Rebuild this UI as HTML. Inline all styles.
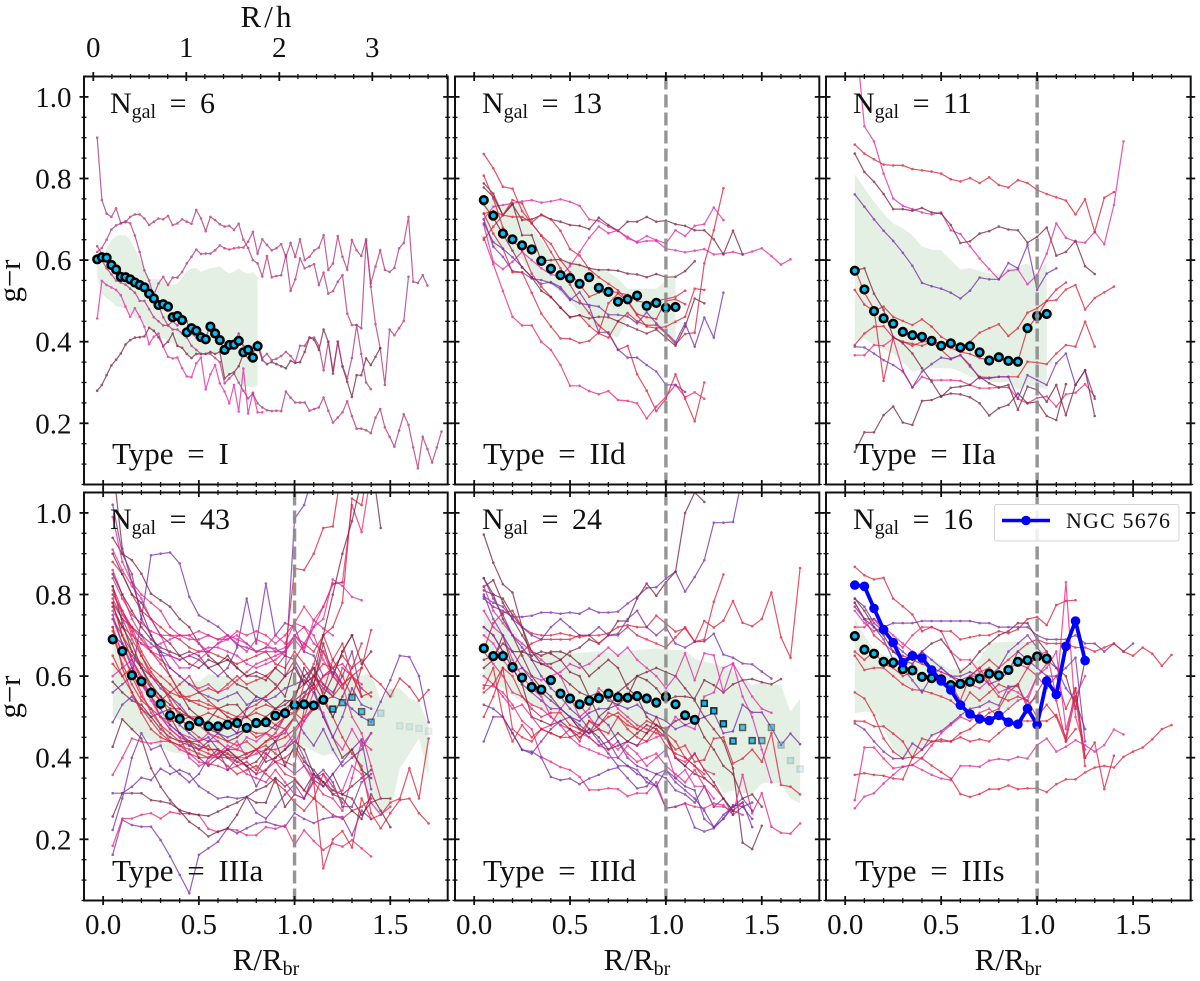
<!DOCTYPE html>
<html lang="en">
<head>
<meta charset="utf-8">
<title>g−r colour profiles by break type</title>
<style>
html,body{margin:0;padding:0;background:#fff;width:1200px;height:981px;overflow:hidden}
svg{display:block;position:absolute;left:0;top:0}
text{font-family:"Liberation Serif","DejaVu Serif",serif;fill:#111}
.anno{font-size:30px;word-spacing:6px}
.type{font-size:31px;word-spacing:6px}
.sub{font-size:20px;word-spacing:0}
.axt{font-size:31px}
</style>
</head>
<body>
<svg id="figure" width="1200" height="981" viewBox="0 0 1200 981" xmlns="http://www.w3.org/2000/svg">
  <defs id="clips"></defs>
  <g id="plot-I"></g>
  <g id="plot-IId"></g>
  <g id="plot-IIa"></g>
  <g id="plot-IIIa"></g>
  <g id="plot-IIId"></g>
  <g id="plot-IIIs"></g>

  <text class="anno" x="110" y="113">N<tspan class="sub" dy="5">gal</tspan><tspan dy="-5"> = 6</tspan></text>
  <text class="anno" x="482" y="113">N<tspan class="sub" dy="5">gal</tspan><tspan dy="-5"> = 13</tspan></text>
  <text class="anno" x="853" y="113">N<tspan class="sub" dy="5">gal</tspan><tspan dy="-5"> = 11</tspan></text>
  <text class="anno" x="110" y="529">N<tspan class="sub" dy="5">gal</tspan><tspan dy="-5"> = 43</tspan></text>
  <text class="anno" x="482" y="529">N<tspan class="sub" dy="5">gal</tspan><tspan dy="-5"> = 24</tspan></text>
  <text class="anno" x="853" y="529">N<tspan class="sub" dy="5">gal</tspan><tspan dy="-5"> = 16</tspan></text>

  <text class="type" x="112" y="464">Type = I</text>
  <text class="type" x="483" y="464">Type = IId</text>
  <text class="type" x="855" y="464">Type = IIa</text>
  <text class="type" x="112" y="881">Type = IIIa</text>
  <text class="type" x="483" y="881">Type = IIId</text>
  <text class="type" x="855" y="881">Type = IIIs</text>

  <text class="axt" x="266" y="27" text-anchor="middle" textLength="51" lengthAdjust="spacing">R/h</text>
  <text class="axt" x="266" y="970" text-anchor="middle">R/R<tspan class="sub" dy="5">br</tspan></text>
  <text class="axt" x="637" y="970" text-anchor="middle">R/R<tspan class="sub" dy="5">br</tspan></text>
  <text class="axt" x="1008" y="970" text-anchor="middle">R/R<tspan class="sub" dy="5">br</tspan></text>
  <text class="axt" transform="translate(20,281) rotate(-90)" text-anchor="middle" textLength="43" lengthAdjust="spacing">g−r</text>
  <text class="axt" transform="translate(20,697) rotate(-90)" text-anchor="middle" textLength="43" lengthAdjust="spacing">g−r</text>

  <g>
    <rect x="994.5" y="504.5" width="184.5" height="36.5" rx="2" fill="#fff" fill-opacity="0.85" stroke="#d4d4d4" stroke-width="1"></rect>
    <line x1="1002" y1="520.5" x2="1050" y2="520.5" stroke="#0000ff" stroke-width="3.6"></line>
    <circle cx="1026" cy="520.5" r="4.8" fill="#0000ff"></circle>
    <text x="1066" y="528" font-size="22" textLength="104" lengthAdjust="spacing">NGC 5676</text>
  </g>
</svg>

<script>
/* ---------- Axis tick data ---------- */
const yTickValues = [0.2, 0.4, 0.6, 0.8, 1.0];
const xTickValues = [0.0, 0.5, 1.0, 1.5];
const topTickValues = [0, 1, 2, 3];

/* ---------- Type I (fine radial sampling) ---------- */
const medianI = [.602,.607,.606,.588,.577,.559,.558,.553,.545,.539,.533,.518,.506,.49,.492,.486,.46,.463,.453,.423,.433,.427,.411,.406,.437,.42,.404,.38,.392,.393,.402,.374,.38,.361,.389];
const upperI = [.592,.60,.629,.649,.66,.661,.661,.649,.629,.604,.58,.555,.553,.553,.551,.547,.539,.543,.555,.574,.58,.58,.571,.576,.58,.582,.584,.574,.567,.571,.58,.571,.566,.571,.559];
const lowerI = [.559,.518,.506,.498,.487,.484,.482,.473,.461,.453,.445,.433,.42,.416,.408,.404,.396,.388,.38,.371,.367,.367,.365,.367,.37,.37,.37,.314,.322,.316,.306,.29,.29,.288,.294];
const profilesI = [
[.90,.747,.714,.706,.727,.691,.693,.706,.712,.712,.702,.686,.694,.702,.70,.708,.686,.69,.70,.694,.689,.723,.702,.671,.706,.698,.688,.682,.684,.674,.689,.65,.63,.60,.592,.56,.61,.558,.561,.563,.612,.525,.553,.604,.58,.585,.59,.539,.569,.518,.524,.547,.563,.469,.441,.441,.433,.647,.535,.443,.384,.294,.43,.416,.433,.451,.559],
[.634,.615,.60,.585,.575,.56,.55,.55,.54,.535,.53,.52,.515,.543,.559,.539,.557,.557,.571,.592,.608,.626,.615,.616,.616,.624,.636,.629,.626,.629,.631,.631,.645,.669,.616,.651,.637,.624,.629,.639,.608,.642,.608,.651,.60,.608,.624,.631,.661,.576,.592,.659,.608,.577,.649,.624,.61,.651,.543,.584,.624,.576,.571,.581,.629,.642,.706,.547,.544,.563,.538],
[.28,.294,.318,.342,.356,.371,.393,.404,.41,.411,.413,.434,.427,.411,.39,.40,.42,.39,.385,.37,.36,.37,.37,.37,.375,.37,.375,.31,.32,.325,.34,.37,.36,.375,.39,.355,.345,.35,.345,.34,.335,.353,.348,.35,.375,.41,.405,.38,.43,.40,.322,.40,.339,.302,.265,.318,.318,.359,.343,.363,.384],
[.457,.549,.539,.533,.527,.514,.486,.461,.482,.461,.437,.394,.412,.42,.388,.363,.359,.361,.335,.315,.313,.347,.361,.283,.32,.343,.298,.278,.249,.294,.229,.334,.224,.275,.227,.227],
[.62,.63,.65,.675,.685,.69,.695,.69,.66,.62,.575,.55,.51,.49,.46,.44,.45,.44,.46,.45,.42,.41,.42,.41,.44,.43,.40,.38,.39,.40,.42,.39,.38,.37,.40,.36,.37,.355,.358,.365,.375,.365,.35,.39,.39,.41,.41,.39,.33,.40,.33,.40,.34,.31,.36,.44,.37,.30,.284],
[.61,.60,.58,.565,.55,.545,.54,.53,.52,.50,.50,.48,.46,.45,.44,.44,.43,.43,.42,.41,.39,.38,.37,.37,.37,.36,.35,.298,.31,.322,.30,.28,.261,.273,.249,.239,.232,.23,.231,.23,.278,.263,.251,.251,.251,.231,.235,.239,.263,.231,.202,.214,.227,.254,.218,.187,.187,.183,.176,.214,.235,.19,.167,.143,.182,.222,.196,.141,.09,.167,.137,.104,.141,.18]
];
const hueI = "ddbmdd";

/* ---------- Type IId ---------- */
const medianIId = [.747,.709,.665,.651,.636,.626,.598,.579,.563,.556,.542,.558,.532,.522,.498,.504,.513,.488,.495,.483,.485];
const upperIId = [.74,.75,.73,.74,.74,.68,.65,.61,.60,.60,.595,.58,.575,.57,.555,.53,.53,.53,.53,.55,.56];
const lowerIId = [.67,.63,.63,.62,.60,.565,.55,.54,.52,.50,.47,.44,.43,.42,.41,.46,.44,.44,.43,.43,.395];
const profilesIId = [
[.86,.825,.78,.775,.72,.69,.66,.62,.58,.54,.5,.47,.44,.42,.38,.39,.32,.28,.23,.26,.32,.26,.205,.30],
[.655,.59,.524,.461,.44,.44,.40,.38,.343,.292,.292,.279,.271,.279,.257,.255,.249,.212,.241,.265,.294,.264,.276,.26],
[.70,.633,.608,.573,.57,.555,.551,.544,.529,.502,.521,.486,.423,.423,.381,.361,.361,.343,.327,.294,.294,.277],
[.70,.731,.735,.739,.744,.747,.741,.744,.749,.743,.733,.70,.696,.682,.671,.657,.643,.647,.647,.628,.624,.619,.623,.627,.614,.616,.62,.614,.621,.629,.61,.589,.602],
[.788,.763,.71,.736,.698,.70,.71,.70,.694,.686,.684,.676,.704,.686,.672,.694,.694,.706,.694,.697,.688,.684,.673,.673,.651,.614,.672,.614],
[.778,.755,.71,.739,.661,.661,.598,.60,.602,.592,.588,.58,.576,.576,.574,.567,.565,.558,.566,.558,.559,.573,.597],
[.807,.751,.68,.649,.624,.567,.535,.51,.483,.46,.465,.439,.42,.41,.45,.47,.45,.44,.441,.42,.394,.419,.422,.592,.673,.776],
[.686,.596,.578,.596,.62,.60,.58,.565,.56,.585,.62,.655,.682,.666,.673,.653,.645,.659,.649,.641,.673,.659,.684,.688,.729,.698],
[.714,.665,.628,.57,.57,.52,.469,.437,.408,.407,.397,.402,.423,.494,.518,.498,.465,.437,.433,.437,.449,.461,.53,.527],
[.65,.682,.71,.747,.739,.69,.66,.64,.60,.57,.54,.51,.52,.525,.52,.515,.50,.495,.50,.505,.51,.525],
[.714,.72,.71,.706,.706,.692,.712,.70,.672,.627,.611,.578,.558,.542,.526,.50,.468,.46,.456,.50,.504,.492],
[.69,.644,.628,.607,.583,.558,.542,.546,.534,.506,.494,.49,.486,.466,.466,.462,.445,.472,.445,.423,.399,.445,.388,.459,.41,.52],
[.736,.704,.664,.623,.582,.558,.525,.509,.484,.46,.465,.457,.461,.46,.45,.44,.43,.42,.43,.41,.39,.437,.506,.494]
];
const hueIId = "rkpmbbrmrrrpb";

/* ---------- Type IIa ---------- */
const medianIIa = [.574,.528,.475,.457,.444,.424,.416,.412,.402,.39,.396,.386,.389,.374,.354,.362,.353,.351,.433,.463,.468];
const upperIIa = [.81,.776,.743,.714,.69,.678,.661,.633,.626,.624,.60,.577,.58,.574,.567,.567,.58,.585,.592,.567,.596];
const lowerIIa = [.396,.408,.392,.38,.372,.35,.327,.331,.335,.335,.335,.327,.314,.31,.302,.30,.302,.282,.294,.29,.282];
const profilesIIa = [
[1.175,.928,.891,.812,.751,.733,.725,.717,.712,.717,.673,.664,.634,.604,.578,.553,.574,.577,.541,.563,.616,.69,.655,.645,.643,.669,.639,.735,.891],
[.883,.861,.847,.834,.832,.832,.823,.82,.817,.812,.798,.793,.801,.789,.803,.784,.778,.796,.789,.772,.762,.754,.746,.712,.749,.669,.753,.767],
[.861,.816,.792,.762,.725,.725,.721,.728,.717,.714,.686,.642,.646,.665,.671,.682,.675,.673,.643,.657,.68,.611,.62,.647,.585,.566],
[.761,.731,.70,.672,.647,.618,.586,.544,.536,.53,.52,.506,.525,.557,.553,.553,.593,.58,.637,.527,.567,.58],
[.527,.491,.475,.486,.461,.451,.441,.455,.437,.412,.398,.386,.40,.422,.433,.443,.414,.433,.471,.482,.50,.502,.528,.539,.479,.507,.521,.535],
[.58,.52,.48,.304,.41,.40,.39,.40,.40,.395,.385,.375,.37,.36,.355,.36,.35,.352,.432,.462,.50,.528,.545],
[.392,.42,.437,.438,.41,.40,.395,.39,.40,.38,.359,.367,.339,.314,.312,.314,.314,.314,.351,.349,.345,.371,.392,.388,.449,.388],
[.367,.367,.392,.39,.408,.33,.288,.314,.306,.306,.306,.304,.294,.286,.286,.288,.288,.26,.249,.262,.266,.241,.271,.275,.296,.266],
[.388,.386,.371,.355,.343,.327,.288,.327,.345,.361,.357,.367,.343,.31,.31,.314,.314,.26,.318,.306,.294,.347,.371,.294,.33,.26],
[.575,.58,.518,.478,.412,.396,.371,.335,.302,.265,.287,.29,.294,.314,.298,.288,.294,.233,.29,.282,.253,.294,.22,.294,.33,.218],
[.13,.178,.178,.22,.241,.202,.196,.255,.257,.267,.273,.271,.264,.249,.219,.237,.245,.273,.249,.253,.218,.208,.296]
];
const hueIIa = "mrbprrrkpbb";

/* ---------- Type IIIa ---------- */
const medianIIIa = [.69,.661,.602,.587,.559,.532,.504,.495,.478,.489,.477,.477,.481,.485,.473,.485,.487,.503,.509,.529,.531,.528,.542];
const outerIIIa = [.519,.535,.548,.513,.487,.509,.558,.478,.476,.472,.465];
const outerWeightIIIa = [.9,.7,.7,.7,.6,.2,.1,.1,.1,.1,.1];
const upperIIIa = [.76,.73,.68,.65,.62,.60,.60,.59,.59,.585,.605,.60,.60,.59,.59,.59,.595,.62,.60,.60,.56,.56,.60,.60,.61,.61,.60,.61,.537,.57,.57,.545,.537,.48];
const lowerIIIa = [.50,.49,.47,.455,.44,.425,.415,.41,.405,.40,.40,.40,.40,.405,.405,.405,.41,.41,.415,.415,.43,.415,.405,.41,.40,.398,.36,.276,.264,.264,.374,.41,.447,.353];
const profilesIIIa = [
[.162,.247,.235,.231,.231,.198,.158,.113,.068,.162,.178,.194,.227,.215,.227,.239,.243,.235,.231,.264,.25,.24,.25,.255,.255,.21,.27,.25],
[.184,.251,.251,.26,.264,.251,.267,.263,.263,.259,.226,.218,.226,.222,.21,.21,.23,.226,.234,.186,.222,.196,.174,.19,.182,.198,.178,.158],
[.256,.313,.313,.313,.296,.293,.288,.272,.264,.26,.257,.268,.28,.29,.304,.29,.29,.349,.28,.31,.30,.345,.33,.36,.31,.33,.35,.37],
[.427,.494,.47,.447,.374,.329,.296,.27,.243,.227,.207,.219,.227,.26,.304,.32,.33,.35,.33,.345,.32,.36,.34],
[.358,.40,.447,.44,.435,.44,.44,.43,.41,.39,.385,.38,.37,.38,.36,.35,.34,.37,.34,.31,.30,.34,.31,.30,.27,.35,.44,.42],
[.313,.313,.329,.351,.345,.373,.36,.37,.36,.33,.315,.30,.304,.30,.304,.265,.251,.28,.31,.335,.30,.36,.33,.36,.39,.42,.445,.323],
[.223,.30,.40,.46,.42,.43,.38,.36,.34,.36,.40,.42,.37,.40,.38,.33,.37,.40,.42,.45,.40,.35,.37,.34,.28,.28,.34,.36],
[.487,.53,.55,.52,.50,.51,.52,.48,.46,.44,.45,.42,.40,.39,.38,.36,.40,.44,.47,.50,.46,.43,.47,.42,.38,.40,.42,.46],
[.586,.56,.54,.53,.50,.47,.45,.44,.44,.43,.42,.42,.40,.40,.41,.42,.39,.40,.42,.44,.42,.36,.34,.32,.31,.30,.26,.29,.30,.30],
[.74,.70,.64,.60,.57,.54,.52,.52,.50,.49,.48,.47,.48,.46,.47,.45,.46,.48,.50,.51,.49,.52,.55,.50,.45,.41,.38,.264,.227,.264,.296,.30,.264,.239],
[.65,.60,.56,.52,.49,.46,.44,.43,.42,.41,.40,.41,.42,.40,.38,.36,.37,.39,.40,.42,.38,.34,.129,.20,.22,.18,.30,.25,.26,.29,.30,.374,.30,.447],
[.86,.80,.74,.70,.66,.64,.62,.60,.58,.57,.58,.56,.57,.59,.61,.63,.64,.65,.66,.70,.67,.72,.77,.827,.83,1.019,.953,1.10],
[.70,.68,.65,.62,.60,.57,.55,.53,.50,.49,.47,.46,.45,.46,.47,.48,.48,.47,.50,.53,.55,.60,.57,.55,.54,.52,.50,.487,.537,.59,.65,.647,.60,.487],
[.56,.58,.60,.74,.896,.90,.903,.876,.794,.749,.735,.721,.70,.676,.67,.66,.67,.668,.65,.64,.60,.62,.58,.56,.60,.66,.55],
[1.12,.913,.83,.76,.70,.65,.60,.56,.52,.50,.48,.46,.44,.45,.47,.49,.48,.50,.52,.54,.56,.58,.54,.50,.55,.60],
[.939,.90,.884,.851,.802,.786,.77,.74,.72,.68,.65,.63,.60,.58,.57,.55,.54,.52,.53,.55,.60,.57,.50,.45,.40,.42,.37,.35],
[.88,.85,.80,.76,.74,.72,.70,.69,.67,.66,.66,.65,.64,.63,.64,.65,.66,.63,.62,.66,.63,.60,.58,.55,.62,.60,.57,.55],
[.78,.74,.72,.70,.68,.66,.65,.64,.65,.64,.62,.60,.62,.67,.79,.68,.827,.70,.73,.72,.66,.65,.60,.61,.58],
[.84,.79,.75,.73,.71,.70,.70,.70,.69,.69,.70,.69,.69,.71,.70,.71,.70,.68,.70,.73,.77,.737,.77,.825,.83],
[.76,.72,.70,.68,.66,.65,.65,.64,.65,.66,.67,.67,.66,.65,.63,.62,.63,.64,.66,.69,.66,.737,.717,.70],
[.80,.76,.72,.66,.62,.60,.58,.55,.54,.53,.52,.52,.50,.49,.47,.46,.46,.44,.45,.47,.50,.52,.54,.55,.58,.60,.62,.713],
[.79,.74,.69,.65,.60,.58,.54,.50,.47,.45,.44,.44,.42,.42,.41,.42,.44,.45,.46,.50,.55,.57,.60,.62,.58,.60,.55,.56],
[.82,.76,.71,.65,.61,.58,.55,.52,.50,.48,.46,.45,.44,.43,.44,.42,.44,.46,.50,.56,.58,.60,.63,.62,.65,.62,.64,.60,.58,.55,.594,.574,.54,.566],
[.90,.85,.80,.78,.74,.70,.68,.65,.66,.65,.62,.63,.64,.62,.60,.61,.60,.58,.55,.63,.58,.62,.55,.60,.66,.70,.63,.66],
[.74,.68,.63,.58,.54,.50,.48,.46,.45,.44,.46,.44,.42,.44,.40,.42,.41,.39,.38,.36,.38,.35,.36,.31,.32,.38,.36,.29,.26,.28],
[.71,.66,.60,.55,.52,.48,.46,.44,.43,.42,.41,.40,.38,.36,.37,.38,.36,.34,.32,.29,.27,.30,.28,.26,.25,.27,.28,.30],
[.72,.65,.61,.56,.51,.48,.44,.42,.41,.40,.40,.40,.41,.40,.40,.41,.42,.42,.43,.46,.50,.56,.60,.62,.58,.50,.46,.38,.30],
[.78,.70,.64,.59,.55,.50,.47,.45,.44,.44,.42,.42,.41,.39,.40,.42,.43,.41,.39,.38,.52,.60,.56,.64,.60,.55,.62],
[.82,.73,.66,.62,.58,.55,.50,.46,.44,.40,.38,.40,.42,.40,.38,.39,.42,.44,.38,.43,.39,.37,.34,.31,.30,.27,.25,.31,.27,.23],
[.70,.63,.58,.54,.52,.50,.49,.49,.50,.50,.51,.50,.49,.50,.50,.52,.53,.52,.51,.51,.53,.58,.66,.60,.57,.62,.68],
[.63,.60,.62,.58,.56,.54,.56,.58,.60,.56,.54,.52,.50,.49,.50,.51,.50,.48,.47,.50,.58,.63,.70,.64,.68,.60,.55],
[.60,.62,.64,.60,.55,.50,.47,.45,.40,.38,.39,.41,.43,.42,.45,.44,.46,.45,.47,.43,.49,.53,.51,.45,.42,.47,.43,.46],
[.75,.68,.62,.58,.55,.52,.48,.46,.43,.42,.44,.46,.48,.46,.52,.55,.54,.55,.57,.58,.59,.56,.50,.45,.50,.57,.53,.52],
[.77,.72,.68,.62,.57,.55,.53,.51,.50,.48,.49,.52,.53,.53,.50,.48,.50,.52,.54,.54,.62,.58,.68,.60,.66,.70],
[.72,.62,.56,.51,.47,.45,.44,.43,.44,.42,.43,.40,.40,.38,.39,.37,.41,.39,.36,.35,.32,.30,.36,.33,.29],
[.99,.88,.83,.80,.78,.76,.72,.70,.70,.71,.70,.69,.70,.68,.66,.69,.68,.66,.67,.70,.72,.68,.66,.62,.63,.60,.58],
[.91,.86,.82,.79,.74,.70,.65,.62,.62,.64,.66,.68,.70,.69,.68,.66,.67,.70,.68,.73,.72,.70,.64,.60,.58],
[1.02,.90,.85,.74,.70,.66,.62,.60,.58,.56,.55,.54,.55,.56,.53,.54,.55,.57,.60,.986,1.019,1.10],
[.78,.70,.66,.63,.60,.58,.56,.55,.55,.56,.57,.56,.58,.60,.58,.59,.60,.62,.65,.864,.86,.90,.963,.967,1.12],
[.81,.75,.72,.69,.66,.63,.60,.56,.54,.54,.53,.52,.51,.50,.52,.53,.55,.57,.60,.64,.68,.66,.70,.72,.78,1.035,1.019,1.15],
[.80,.76,.70,.68,.67,.68,.69,.70,.70,.68,.66,.68,.69,.70,.68,.66,.66,.66,.66,.70,.68,.72,.74,.837,.821,.794,.786],
[.85,.80,.76,.72,.69,.67,.66,.65,.63,.62,.64,.63,.65,.62,.60,.60,.59,.62,.60,.62,.58,.60,.70,.80,.90,.98,1.08,1.14,.963]
];
const hueIIIa = "pkbbkpppbrrkppbbrpkmrrrbmrkrbrrmpbrkmprrmbm";

/* ---------- Type IIId ---------- */
const medianIIId = [.668,.649,.649,.622,.596,.573,.567,.59,.557,.545,.531,.54,.546,.557,.548,.547,.551,.545,.535,.549,.531,.504,.493];
const outerIIId = [.533,.515,.483,.441,.474,.442,.442,.474,.431,.393,.372];
const outerWeightIIId = [1,1,1,.9,.7,.8,.6,.5,.3,.2,.15];
const upperIIId = [.77,.733,.741,.717,.684,.664,.656,.658,.66,.658,.656,.659,.661,.658,.656,.66,.664,.666,.668,.664,.664,.664,.643,.635,.63,.623,.61,.598,.578,.585,.58,.578,.513,.545];
const lowerIIId = [.586,.578,.57,.553,.537,.529,.521,.504,.484,.476,.468,.46,.455,.453,.451,.451,.451,.45,.447,.419,.417,.415,.395,.374,.349,.313,.32,.313,.31,.337,.34,.335,.30,.288];
const profilesIIId = [
[.947,.878,.825,.805,.72,.64,.63,.62,.60,.58,.56,.55,.56,.54,.53,.55,.60,.61,.62,.61,.60,.57,.54,.50,.47,.44,.374,.192,.176,.233],
[.819,.835,.78,.74,.70,.66,.65,.66,.66,.65,.63,.60,.62,.64,.62,.57,.55,.50,.48,.47,.49,.50,.50,.45,.42,.38,.36,.30,.31,.28],
[.79,.77,.76,.745,.745,.748,.756,.756,.753,.756,.753,.766,.756,.756,.758,.778,.794,.816,.818,.839,.856,.807,.843,.884,.976,.976,.978,1.09],
[.81,.80,.79,.75,.72,.66,.63,.63,.64,.66,.67,.69,.68,.70,.735,.735,.79,.827,.797,.83,.856,1.0,1.05,1.027],
[.664,.73,.755,.76,.72,.705,.70,.70,.705,.70,.695,.70,.70,.705,.72,.725,.72,.72,.748,.729,.709,.717,.684,.735,.719,.736,.784,.731,.722,.74,.805,.695,.645,.865],
[.72,.70,.66,.62,.66,.68,.69,.69,.69,.69,.70,.70,.68,.70,.70,.72,.70,.69,.68,.67,.695,.72,.685,.69,.782,.849],
[.795,.78,.77,.74,.72,.70,.69,.72,.74,.72,.70,.70,.72,.70,.704,.74,.76,.72,.70,.72,.68,.67,.684,.685,.704,.653,.645,.631,.629,.611,.594],
[.64,.65,.68,.66,.66,.65,.66,.655,.64,.61,.60,.55,.50,.52,.56,.58,.60,.59,.57,.54,.55,.55,.545,.59,.578,.56,.58,.59,.593,.585,.58,.593],
[.70,.68,.64,.61,.62,.60,.59,.60,.61,.63,.62,.63,.65,.67,.65,.67,.64,.62,.60,.57,.60,.656,.59,.656,.651,.56,.631,.59,.55,.52,.51],
[.72,.70,.66,.62,.58,.56,.54,.52,.52,.50,.47,.45,.43,.44,.40,.38,.37,.34,.33,.276,.28,.288,.229,.219,.227,.251,.284,.28,.25],
[.578,.575,.56,.53,.49,.47,.402,.39,.377,.37,.353,.321,.321,.325,.323,.306,.313,.313,.34,.276,.28,.288,.28,.276,.288,.284,.26,.358,.264,.313,.231,.216,.214,.239],
[.44,.50,.50,.46,.419,.415,.40,.353,.345,.349,.335,.349,.358,.37,.376,.35,.325,.33,.36,.35,.32,.31,.29,.33,.28,.30,.26,.28,.29],
[.56,.58,.62,.47,.45,.44,.47,.46,.45,.47,.44,.49,.47,.46,.50,.48,.47,.46,.50,.45,.42,.43,.39,.395,.447,.45,.386,.398,.42,.39,.46,.333,.329,.31],
[.84,.80,.74,.70,.65,.60,.57,.55,.52,.50,.47,.46,.47,.44,.46,.44,.46,.48,.47,.45,.40,.38,.36,.35,.33],
[.66,.63,.60,.56,.55,.53,.52,.50,.48,.47,.46,.45,.43,.42,.44,.41,.39,.40,.41,.38,.36,.34,.37,.33,.28,.28,.27,.26],
[.82,.76,.73,.70,.68,.66,.64,.62,.60,.55,.53,.50,.47,.44,.42,.44,.43,.44,.45,.46,.50,.48,.47,.55,.56,.62,.631,.55,.50,.42,.34],
[.84,.79,.75,.70,.67,.64,.60,.57,.55,.52,.50,.47,.44,.41,.38,.38,.36,.35,.33,.37,.34,.32,.30,.27,.23,.26,.28,.29,.23],
[.50,.55,.62,.60,.55,.52,.50,.51,.51,.48,.47,.46,.48,.50,.51,.49,.47,.49,.48,.46,.44,.40,.38,.35,.33,.30,.27,.29],
[.62,.64,.70,.62,.58,.50,.49,.48,.49,.47,.45,.47,.45,.42,.43,.44,.43,.46,.48,.46,.40,.38,.41,.37,.34,.30,.27],
[.53,.52,.50,.46,.42,.41,.44,.47,.49,.50,.49,.51,.52,.52,.53,.52,.53,.51,.50,.49,.47,.48,.49,.50,.51,.46,.465,.53,.511,.511,.474,.431,.459,.433],
[.60,.58,.55,.52,.53,.50,.47,.48,.52,.55,.50,.52,.57,.55,.52,.50,.48,.47,.46,.45,.40,.39,.41,.37,.36],
[.76,.72,.70,.64,.60,.57,.55,.50,.48,.45,.43,.42,.41,.40,.40,.43,.41,.38,.40,.42,.35,.37,.33,.33,.30],
[.57,.62,.50,.44,.48,.45,.47,.46,.45,.45,.46,.49,.48,.51,.50,.47,.45,.44,.47,.43,.41,.40,.38,.36],
[.80,.74,.70,.66,.62,.59,.56,.54,.52,.50,.48,.46,.50,.48,.44,.40,.38,.37,.36,.37,.35,.33,.32,.25,.23,.25,.28,.30,.27]
];
const hueIIId = "bbpbrrpbmpkprbkmprbpkmrp";

/* ---------- Type IIIs ---------- */
const medianIIIs = [.698,.665,.655,.635,.633,.617,.614,.598,.595,.592,.578,.581,.586,.594,.606,.602,.615,.635,.639,.648,.643];
const ngc5676 = [.823,.82,.766,.714,.682,.633,.65,.644,.615,.588,.566,.529,.507,.495,.491,.504,.487,.482,.52,.481,.588,.555,.673,.735,.638];
const upperIIIs = [.741,.70,.665,.651,.647,.65,.651,.65,.645,.63,.615,.62,.623,.643,.68,.683,.684,.684,.684,.676,.66];
const lowerIIIs = [.509,.513,.509,.47,.423,.398,.407,.423,.447,.464,.48,.496,.513,.52,.522,.52,.517,.537,.56,.60,.607];
const profilesIIIs = [
[.868,.847,.837,.841,.79,.771,.751,.71,.72,.71,.71,.69,.695,.70,.70,.71,.705,.715,.74,.745,.725,.774,.784,.786],
[.78,.74,.74,.72,.73,.73,.73,.735,.735,.735,.735,.735,.735,.73,.73,.72,.72,.72,.72,.70,.69,.69,.69,.70,.68,.68,.66,.68,.66,.68],
[.78,.74,.70,.68,.66,.65,.64,.63,.62,.61,.60,.58,.60,.62,.64,.62,.64,.66,.68,.69,.68,.68,.68,.67,.67,.66,.67,.68,.66,.65,.67,.655,.625,.652],
[.65,.615,.62,.62,.60,.58,.567,.565,.558,.55,.54,.52,.56,.54,.56,.58,.57,.58,.62,.60,.57,.60,.52,.57,.40,.437,.323,.405],
[.56,.545,.504,.447,.415,.398,.402,.398,.381,.365,.349,.311,.304,.311,.323,.323,.332,.323,.325,.325,.316,.335,.347,.347,.364,.376,.38,.376,.402,.415,.425,.445,.47,.48],
[.49,.489,.477,.477,.459,.44,.40,.42,.44,.44,.44,.45,.44,.445,.44,.46,.48,.49,.49,.49,.49,.505,.45,.57,.40],
[.484,.469,.44,.415,.398,.398,.435,.419,.455,.465,.484,.504,.52,.525,.538,.528,.575,.575,.53,.55],
[.296,.425,.425,.398,.374,.378,.382,.40,.43,.46,.48,.50,.49,.51,.52,.50,.52,.54,.55,.60,.63],
[.358,.362,.358,.356,.349,.347,.40,.447,.44,.445,.44,.46,.47,.49,.51,.52,.56,.58,.52,.56,.60,.54,.44,.47],
[.276,.305,.313,.337,.358,.378,.382,.37,.358,.349,.345,.38,.38,.378,.393,.397,.394,.402,.398,.431,.447,.415,.427,.443,.431,.415,.431,.469,.457],
[.79,.76,.72,.70,.66,.64,.63,.66,.68,.69,.66,.61,.63,.66,.68,.70,.71,.73,.73,.69,.66,.62,.60,.52,.64],
[.79,.77,.73,.71,.68,.66,.64,.66,.64,.62,.60,.60,.61,.60,.60,.62,.66,.68,.70,.67,.64,.62,.57,.54,.47],
[.76,.73,.71,.72,.70,.68,.66,.64,.62,.61,.60,.58,.58,.57,.59,.56,.57,.56,.54,.60,.62,.66,.47,.55,.60],
[.77,.74,.72,.69,.64,.62,.59,.56,.60,.62,.60,.59,.60,.60,.58,.59,.61,.66,.64,.62,.60,.60,.62,.645,.44],
[.72,.72,.74,.71,.69,.67,.70,.72,.72,.71,.66,.64,.64,.61,.62,.60,.62,.63,.62,.65,.66,.55,.83,.50,.42],
[.66,.64,.66,.63,.62,.60,.61,.60,.60,.585,.58,.54,.60,.62,.58,.55,.54,.55,.54,.50,.53,.50,.44,.55,.38]
];
const hueIIIs = "rprrrrpkrmbpmpkr";

/* ---------- Layout and style (not data) ---------- */
const palette = {r:"#d8243c", m:"#df2aa5", p:"#7a2fa8", b:"#7c2540", k:"#e8267a", d:"#b0357a"};
const layouts = {
  I:    {left:84,  right:447.7,  top:76.5,  bottom:484.5},
  IId:  {left:455, right:819.3,  top:76.5,  bottom:484.5},
  IIa:  {left:826, right:1190.7, top:76.5,  bottom:484.5},
  IIIa: {left:84,  right:447.7,  top:492.5, bottom:900.5},
  IIId: {left:455, right:819.3,  top:492.5, bottom:900.5},
  IIIs: {left:826, right:1190.7, top:492.5, bottom:900.5}
};

const NS = "http://www.w3.org/2000/svg";
function svgEl(tag, parent, attrs){
  const el = document.createElementNS(NS, tag);
  for (const key in attrs) el.setAttribute(key, attrs[key]);
  parent.appendChild(el);
  return el;
}
function xScale(L, v){ return L.left + (v + 0.1) / 1.9 * (L.right - L.left); }
function yScale(L, v){ return L.bottom - (v - 0.05) * (L.bottom - L.top); }
function regularX(i){ return 0.05 * (i + 1); }
function fineX(i){ return -0.031 + 0.02464 * i; }

function drawFill(g, L, upper, lower, xOf){
  let pts = [];
  upper.forEach((v, i) => pts.push(xScale(L, xOf(i)).toFixed(1) + "," + yScale(L, v).toFixed(1)));
  for (let i = lower.length - 1; i >= 0; i--) pts.push(xScale(L, xOf(i)).toFixed(1) + "," + yScale(L, lower[i]).toFixed(1));
  const poly = svgEl("polygon", g, {points: pts.join(" "), fill: "#e4f0e4"});
  
  
}

function drawProfiles(g, L, profiles, hues, xOf){
  profiles.forEach((series, s) => {
    const colour = palette[hues[s % hues.length]];
    const group = svgEl("g", g, {opacity: "0.78"});
    
    
    const d = series.map((v, i) => xScale(L, xOf(i)).toFixed(1) + "," + yScale(L, v).toFixed(1)).join(" ");
    const line = svgEl("polyline", group, {points: d, fill: "none", stroke: colour, "stroke-width": "1.2"});
    
    
    series.forEach((v, i) => {
      const dot = svgEl("circle", group, {cx: xScale(L, xOf(i)).toFixed(1), cy: yScale(L, v).toFixed(1), r: "1.3", fill: colour});
      
      
    });
  });
}

function drawMedian(g, L, median, xOf){
  median.forEach((v, i) => {
    const pt = svgEl("circle", g, {cx: xScale(L, xOf(i)).toFixed(1), cy: yScale(L, v).toFixed(1), r: "3.8", fill: "#00bff5", stroke: "#000", "stroke-width": "2.6"});
    
    
  });
}

function drawOuter(g, L, outer, weights, startIndex){
  outer.forEach((v, i) => {
    const cx = xScale(L, regularX(startIndex + i));
    const cy = yScale(L, v);
    const sq = svgEl("rect", g, {x: (cx - 2.9).toFixed(1), y: (cy - 2.9).toFixed(1), width: "5.8", height: "5.8", fill: "#00bff5", stroke: "#222", "stroke-width": "1.6", opacity: weights[i]});
    
    
  });
}

function drawBlue(g, L, series){
  const d = series.map((v, i) => xScale(L, regularX(i)).toFixed(1) + "," + yScale(L, v).toFixed(1)).join(" ");
  const line = svgEl("polyline", g, {points: d, fill: "none", stroke: "#0000ff", "stroke-width": "3.8", "stroke-linejoin": "round"});
  
  
  series.forEach((v, i) => {
    const pt = svgEl("circle", g, {cx: xScale(L, regularX(i)).toFixed(1), cy: yScale(L, v).toFixed(1), r: "4.8", fill: "#0000ff"});
    
    
  });
}

function drawBreak(g, L){
  const x = xScale(L, 1.0);
  const line = svgEl("line", g, {x1: x, x2: x, y1: L.top, y2: L.bottom, stroke: "#8a8a8a", "stroke-opacity": "0.9", "stroke-width": "3.4", "stroke-dasharray": "13 5"});
  
  
}

function tick(g, x1, y1, x2, y2, width, name){
  const t = svgEl("line", g, {x1: x1, y1: y1, x2: x2, y2: y2, stroke: "#111", "stroke-width": width});
  
  
}

function drawAxes(g, L, opts){
  const frame = svgEl("rect", g, {x: L.left, y: L.top, width: L.right - L.left, height: L.bottom - L.top, fill: "none", stroke: "#111", "stroke-width": "2"});
  
  

  for (let n = 1; n <= 20; n++){
    const v = 0.05 * n;
    const y = yScale(L, v);
    const major = n % 4 === 0;
    const h = major ? 4.5 : 2.5;
    const w = major ? 1.8 : 1.3;
    tick(g, L.left - h, y, L.left + h, y, w, 'y-tick-left');
    tick(g, L.right - h, y, L.right + h, y, w, 'y-tick-right');
  }
  for (let n = 0; n <= 17; n++){
    const x = xScale(L, 0.1 * n);
    const major = n % 5 === 0;
    const h = major ? 4.5 : 2.5;
    const w = major ? 1.8 : 1.3;
    tick(g, x, L.bottom - h, x, L.bottom + h, w, 'x-tick-bottom');
    if (!opts.topRh) tick(g, x, L.top - h, x, L.top + h, w, 'x-tick-top');
  }
  if (opts.topRh){
    for (let n = 0; n <= 19; n++){
      const x = 93.3 + 93 * 0.2 * n;
      const major = n % 5 === 0;
      const h = major ? 4.5 : 2.5;
      tick(g, x, L.top - h, x, L.top + h, major ? 1.8 : 1.3, 'rh-tick-top');
    }
    topTickValues.forEach(v => {
      const lab = svgEl("text", g, {x: 93.3 + 93 * v, y: 57, "text-anchor": "middle", "font-size": "29"});
      lab.textContent = String(v);
      
      
    });
  }
  if (opts.yLabels){
    yTickValues.forEach(v => {
      const lab = svgEl("text", g, {x: 71.5, y: yScale(L, v) + 10, "text-anchor": "end", "font-size": "29"});
      lab.textContent = v.toFixed(1);
      
      
    });
  }
  if (opts.xLabels){
    xTickValues.forEach(v => {
      const lab = svgEl("text", g, {x: xScale(L, v), y: 934, "text-anchor": "middle", "font-size": "29"});
      lab.textContent = v.toFixed(1);
      
      
    });
  }
}

function drawPanel(key, cfg){
  const L = layouts[key];
  const root = document.getElementById("plot-" + key);
  const defs = document.getElementById("clips");
  const clip = svgEl("clipPath", defs, {id: "clip-" + key});
  svgEl("rect", clip, {x: L.left, y: L.top, width: L.right - L.left, height: L.bottom - L.top});

  const plot = svgEl("g", root, {"clip-path": "url(#clip-" + key + ")"});
  
  

  const xOf = cfg.xOf || regularX;
  drawFill(plot, L, cfg.upper, cfg.lower, xOf);
  drawProfiles(plot, L, cfg.profiles, cfg.hues, xOf);
  drawMedian(plot, L, cfg.median, xOf);
  if (cfg.outer) drawOuter(plot, L, cfg.outer, cfg.weights, cfg.median.length);
  if (cfg.blue) drawBlue(plot, L, cfg.blue);
  if (!cfg.noBreak) drawBreak(plot, L);
  drawAxes(root, L, cfg);
}

drawPanel("I",    {median: medianI, upper: upperI, lower: lowerI, profiles: profilesI, hues: hueI, xOf: fineX, noBreak: true, topRh: true, yLabels: true});
drawPanel("IId",  {median: medianIId, upper: upperIId, lower: lowerIId, profiles: profilesIId, hues: hueIId});
drawPanel("IIa",  {median: medianIIa, upper: upperIIa, lower: lowerIIa, profiles: profilesIIa, hues: hueIIa});
drawPanel("IIIa", {median: medianIIIa, outer: outerIIIa, weights: outerWeightIIIa, upper: upperIIIa, lower: lowerIIIa, profiles: profilesIIIa, hues: hueIIIa, yLabels: true, xLabels: true});
drawPanel("IIId", {median: medianIIId, outer: outerIIId, weights: outerWeightIIId, upper: upperIIId, lower: lowerIIId, profiles: profilesIIId, hues: hueIIId, xLabels: true});
drawPanel("IIIs", {median: medianIIIs, blue: ngc5676, upper: upperIIIs, lower: lowerIIIs, profiles: profilesIIIs, hues: hueIIIs, xLabels: true});
</script>
</body>
</html>
